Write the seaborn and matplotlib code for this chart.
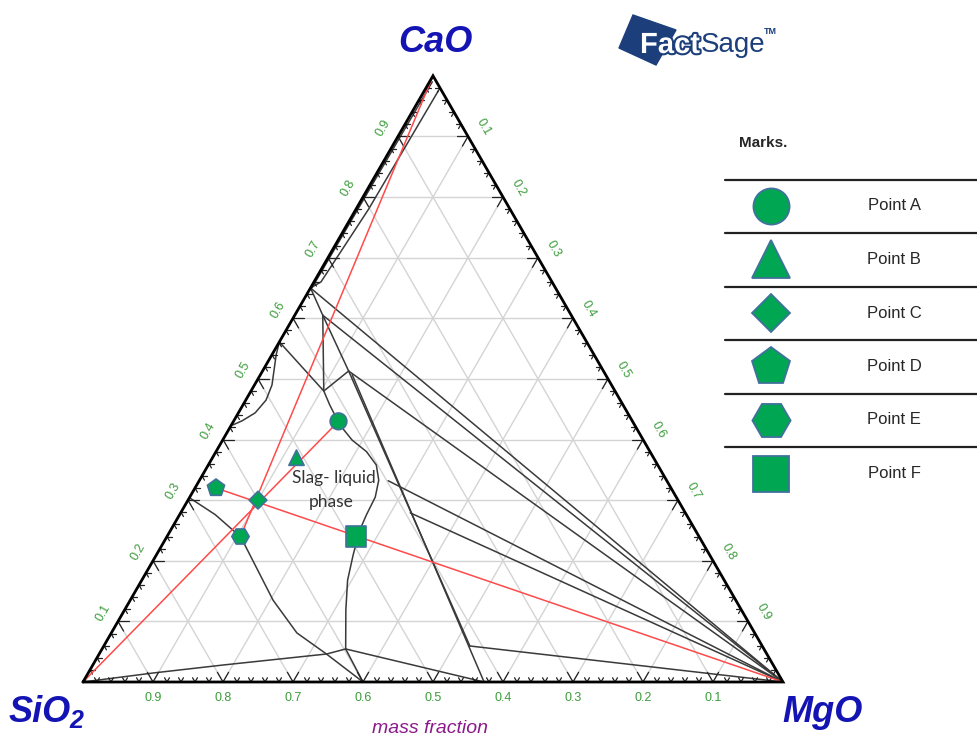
import numpy as np
import pandas as pd
import seaborn as sns
import matplotlib.pyplot as plt
from matplotlib.patches import Polygon
import matplotlib.patheffects as pe

sns.set_style('white')
plt.rcParams['font.family'] = ['Liberation Sans', 'DejaVu Sans']

# marked points, mass fractions (CaO, MgO); SiO2 = 1 - CaO - MgO
point_names = ['Point A', 'Point B', 'Point C', 'Point D', 'Point E', 'Point F']
point_cao = [0.43, 0.37, 0.30, 0.32, 0.24, 0.24]
point_mgo = [0.15, 0.12, 0.10, 0.03, 0.105, 0.27]
point_markers = ['o', '^', 'D', 'p', 'H', 's']

tick_values = [0.1, 0.2, 0.3, 0.4, 0.5, 0.6, 0.7, 0.8, 0.9]

# phase boundaries, each a list of (CaO, MgO)
near_edge_1 = [(0.99, 0.004), (0.65, 0.002)]
near_edge_2 = [(0.975, 0.02), (0.78, 0.018), (0.66, 0.01), (0.65, 0.0)]
c2s_mgo = [(0.65, 0.0), (0.0, 1.0)]
n1_mgo = [(0.605, 0.04), (0.0, 1.0)]
c2s_n1 = [(0.65, 0.0), (0.605, 0.04)]
n1_n2 = [(0.605, 0.04), (0.48, 0.104)]
n1_mw = [(0.605, 0.04), (0.513, 0.123)]
n2_mw = [(0.48, 0.104), (0.513, 0.123)]
mw_mgo = [(0.513, 0.123), (0.0, 1.0)]
l0_n2 = [(0.561, 0.0), (0.48, 0.104)]
bulge = [(0.561, 0.0), (0.540, 0.006), (0.515, 0.0155), (0.490, 0.025),
         (0.465, 0.029), (0.444, 0.024), (0.431, 0.012), (0.424, 0.002)]
liquid_mgo_side = [(0.48, 0.104), (0.457, 0.124), (0.424, 0.155), (0.399, 0.185),
                   (0.380, 0.215), (0.358, 0.240), (0.333, 0.256), (0.305, 0.265),
                   (0.276, 0.267), (0.251, 0.270), (0.210, 0.281), (0.168, 0.294),
                   (0.119, 0.316), (0.0545, 0.348)]
steep_1 = [(0.513, 0.123), (0.0594, 0.523)]
steep_2 = [(0.507, 0.131), (0.0, 0.573)]
branch_1 = [(0.332, 0.270), (0.0, 1.0)]
branch_2 = [(0.279, 0.328), (0.0, 1.0)]
node_mgo = [(0.0594, 0.523), (0.0, 1.0)]
bottom_left = [(0.0, 0.0), (0.0149, 0.093), (0.028, 0.186), (0.0462, 0.325), (0.0545, 0.348)]
bottom_right = [(0.0545, 0.348), (0.0, 0.573)]
drop_1 = [(0.0545, 0.348), (0.0, 0.40)]
e_curve = [(0.304, 0.0), (0.276, 0.051), (0.239, 0.106), (0.135, 0.204),
           (0.081, 0.265), (0.046, 0.325), (0.0, 0.40)]

boundaries = [near_edge_1, near_edge_2, c2s_mgo, n1_mgo, c2s_n1, n1_n2, n1_mw, n2_mw,
              mw_mgo, l0_n2, bulge, liquid_mgo_side, steep_1, steep_2, branch_1,
              branch_2, node_mgo, bottom_left, bottom_right, drop_1, e_curve]

H = np.sqrt(3) / 2


def tern(cao, mgo):
    cao = np.asarray(cao, dtype=float)
    mgo = np.asarray(mgo, dtype=float)
    return mgo + cao / 2, cao * H


fig = plt.figure(figsize=(9.78, 7.38), dpi=100)
ax = fig.add_axes([0, 0, 1, 1])
ax.set_xlim(-83 / 700, 895 / 700)
ax.set_ylim(-56 / 700, 682 / 700)
ax.axis('off')

grid_c = '#d4d4d4'
# grid lines
for k in tick_values:
    for a, b in [((k, 0), (k, 1 - k)), ((0, k), (1 - k, k)), ((1 - k, 0), (0, 1 - k))]:
        x, y = tern([a[0], b[0]], [a[1], b[1]])
        ax.plot(x, y, color=grid_c, lw=1.0, zorder=1)

# ticks, every 0.02, V shapes along the two other grid directions
dirs = {'bottom': [(0.5, H), (-0.5, H)],
        'left': [(1, 0), (0.5, -H)],
        'right': [(-1, 0), (-0.5, -H)]}
for j in range(1, 50):
    v = j * 0.02
    L = 0.016 if j % 5 == 0 else 0.007
    for side in ['bottom', 'left', 'right']:
        if side == 'bottom':
            x0, y0 = tern(0, v)
        elif side == 'left':
            x0, y0 = tern(v, 0)
        else:
            x0, y0 = tern(1 - v, v)
        for dx, dy in dirs[side]:
            ax.plot([x0, x0 + L * dx], [y0, y0 + L * dy], color='#222222', lw=0.9, zorder=3)

# phase boundaries
for line in boundaries:
    cao, mgo = zip(*line)
    x, y = tern(cao, mgo)
    ax.plot(x, y, color='#3a3a3a', lw=1.1, zorder=2)

# red construction lines through the marked points
pts = pd.DataFrame({'name': point_names, 'cao': point_cao, 'mgo': point_mgo})
pts['X'], pts['Y'] = tern(pts['cao'], pts['mgo'])
red = '#ff4a4a'
for (c0, m0), (c1, m1) in [((0, 0), (point_cao[0], point_mgo[0])),
                           ((1, 0), (point_cao[4], point_mgo[4])),
                           ((point_cao[3], point_mgo[3]), (0, 1))]:
    x, y = tern([c0, c1], [m0, m1])
    ax.plot(x, y, color=red, lw=1.1, zorder=4)

# triangle frame
fx, fy = tern([0, 0, 1, 0], [0, 1, 0, 0])
ax.plot(fx, fy, color='black', lw=2.0, zorder=5, solid_joinstyle='miter')

green = '#00a651'
edge = '#41719c'
plot_sizes = dict(zip(point_names, [12, 11, 9, 13, 12.5, 14.5]))
sns.scatterplot(data=pts, x='X', y='Y', style='name', markers=dict(zip(point_names, point_markers)),
                size='name', sizes={k: v ** 2 for k, v in plot_sizes.items()},
                color=green, edgecolor=edge, linewidth=1.2, legend=False, ax=ax, zorder=6)

# tick labels
tick_green = '#3b9b3b'
for v in tick_values:
    x, y = tern(0, 1 - v)
    ax.text(x, y - 0.023, f'{v:.1f}', color=tick_green, fontsize=9, ha='center', va='center')
    x, y = tern(v, 0)
    ax.text(x - 0.0214, y + 0.0124, f'{v:.1f}', color=tick_green, fontsize=9, ha='center',
            va='center', rotation=60)
    x, y = tern(1 - v, v)
    ax.text(x + 0.0225, y + 0.013, f'{v:.1f}', color=tick_green, fontsize=9, ha='center',
            va='center', rotation=-60)

# corner labels
corner_blue = '#1414b4'
ax.text(0.503, 0.913, 'CaO', color=corner_blue, fontsize=26, fontweight='bold', fontstyle='italic',
        ha='center', va='center')
ax.text(-0.062, -0.043, 'SiO', color=corner_blue, fontsize=26, fontweight='bold',
        fontstyle='italic', ha='center', va='center')
ax.text(-0.009, -0.056, '2', color=corner_blue, fontsize=18, fontweight='bold',
        fontstyle='italic', ha='center', va='center')
ax.text(1.056, -0.043, 'MgO', color=corner_blue, fontsize=26, fontweight='bold', fontstyle='italic',
        ha='center', va='center')
ax.text(0.496, -0.066, 'mass fraction', color='#8b1a8b', fontsize=14, fontstyle='italic',
        ha='center', va='center')

ax.text(0.3586, 0.2914, 'Slag- liquid', color='#333333', fontsize=12.5, family=['Lato', 'DejaVu Sans'],
        ha='center', va='center', zorder=7)
ax.text(0.354, 0.2571, 'phase', color='#333333', fontsize=12.5, family=['Lato', 'DejaVu Sans'],
        ha='center', va='center', zorder=7)

# FactSage logo
W, Hp = 978.0, 738.0
def fp(px, py):
    return (px / W, 1 - py / Hp)

logo_blue = '#1c3f7c'
sq = Polygon([fp(633, 15), fp(676, 30), fp(656, 65), fp(619, 48)], closed=True,
             transform=fig.transFigure, color=logo_blue, zorder=8)
fig.patches.append(sq)
fig.text(*fp(640, 45), 'Fact', color='white', fontsize=21, fontweight='bold', ha='left', va='center',
         zorder=9, path_effects=[pe.withStroke(linewidth=3, foreground=logo_blue)])
fig.text(*fp(701, 45), 'Sage', color=logo_blue, fontsize=20, ha='left', va='center', zorder=9)
fig.text(*fp(764, 31), 'TM', color=logo_blue, fontsize=6.5, fontweight='bold', ha='left', va='center')

# legend table
fig.text(*fp(763, 143), 'Marks.', fontsize=11, fontweight='bold', ha='center', va='center')
row_lines = [180, 233, 287, 340, 394, 447]
for ry in row_lines:
    x0, y0 = fp(725, ry)
    x1, _ = fp(978, ry)
    ax.plot([x0, x1], [y0, y0], color='#222222', lw=1.6, transform=ax.transAxes, clip_on=False)
legend_sizes = [26, 27, 19.5, 29, 27.5, 26]
for i, name in enumerate(point_names):
    cy = 206 + 53.5 * i
    mx, my = fp(771, cy)
    ax.plot([mx], [my], marker=point_markers[i], ms=legend_sizes[i], color=green, mec=edge, mew=1.3,
            transform=ax.transAxes, clip_on=False)
    tx, ty = fp(894, cy)
    fig.text(tx, ty, name, fontsize=12, ha='center', va='center')

fig.savefig('out.png', dpi=100)
